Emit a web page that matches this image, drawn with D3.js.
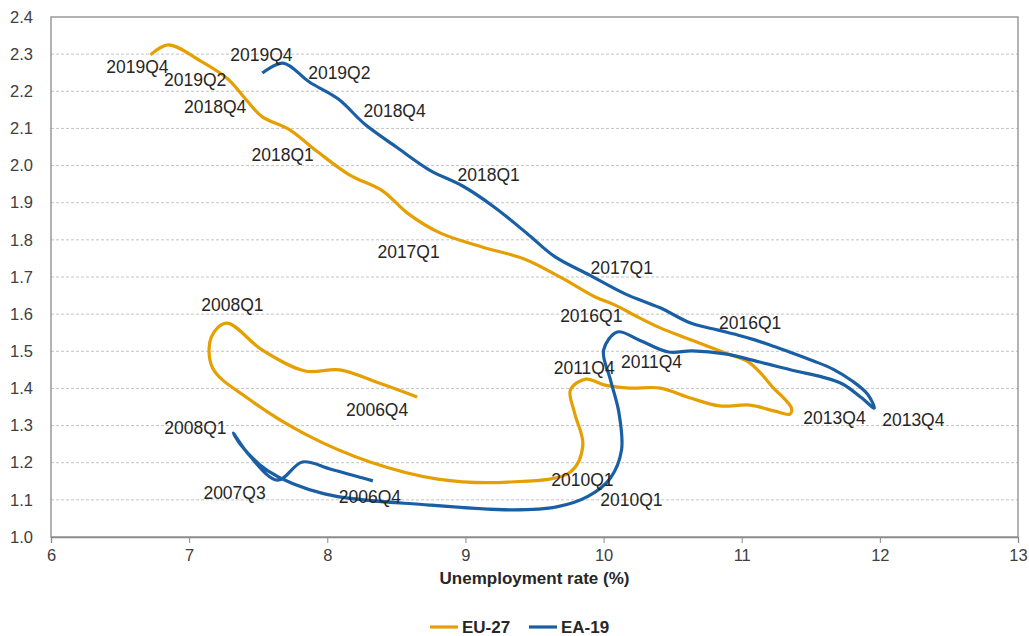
<!DOCTYPE html>
<html>
<head>
<meta charset="utf-8">
<script src="https://cdn.jsdelivr.net/npm/d3@7"></script>
<style>
body { margin: 0; background: #fff; }
text { font-family: "Liberation Sans", Arial, sans-serif; }
</style>
</head>
<body>
<svg width="1029" height="636"></svg>
<script>
// quarters 2006Q4 .. 2019Q4
const quarters = [
    '2006Q4',
    '2007Q1', '2007Q2', '2007Q3', '2007Q4', '2008Q1', '2008Q2', '2008Q3', '2008Q4',
    '2009Q1', '2009Q2', '2009Q3', '2009Q4', '2010Q1', '2010Q2', '2010Q3', '2010Q4',
    '2011Q1', '2011Q2', '2011Q3', '2011Q4', '2012Q1', '2012Q2', '2012Q3', '2012Q4',
    '2013Q1', '2013Q2', '2013Q3', '2013Q4', '2014Q1', '2014Q2', '2014Q3', '2014Q4',
    '2015Q1', '2015Q2', '2015Q3', '2015Q4', '2016Q1', '2016Q2', '2016Q3', '2016Q4',
    '2017Q1', '2017Q2', '2017Q3', '2017Q4', '2018Q1', '2018Q2', '2018Q3', '2018Q4',
    '2019Q1', '2019Q2', '2019Q3', '2019Q4'
];

// unemployment rate (%)
const euUnemp = [8.65, 8.37, 8.09, 7.84, 7.53, 7.27, 7.16, 7.17, 7.43, 7.84, 8.31, 8.80, 9.31,
    9.76, 9.85, 9.79, 9.76, 9.87, 10.01, 10.19, 10.41, 10.63, 10.84, 11.06, 11.24, 11.35, 11.36,
    11.31, 11.23, 11.15, 11.05, 10.90, 10.73, 10.58, 10.41, 10.25, 10.08, 9.94, 9.70, 9.43, 9.12,
    8.82, 8.58, 8.40, 8.16, 7.93, 7.72, 7.53, 7.42, 7.28, 7.08, 6.85, 6.72];
// job vacancy rate
const euVac = [1.377, 1.415, 1.450, 1.447, 1.503, 1.576, 1.538, 1.455, 1.372, 1.277, 1.202, 1.156,
    1.148, 1.175, 1.248, 1.334, 1.396, 1.425, 1.409, 1.401, 1.401, 1.374, 1.353, 1.355, 1.339,
    1.331, 1.347, 1.372, 1.401, 1.436, 1.471, 1.493, 1.517, 1.538, 1.563, 1.592, 1.625, 1.646,
    1.697, 1.748, 1.781, 1.818, 1.872, 1.932, 1.975, 2.037, 2.098, 2.131, 2.174, 2.233, 2.282,
    2.325, 2.298];

const eaUnemp = [8.33, 8.02, 7.82, 7.64, 7.44, 7.32, 7.37, 7.57, 7.98, 8.74, 9.34, 9.66, 9.89,
    10.05, 10.13, 10.11, 10.05, 10.00, 10.10, 10.26, 10.47, 10.64, 10.88, 11.13, 11.39, 11.58,
    11.73, 11.87, 11.96, 11.91, 11.80, 11.66, 11.52, 11.37, 11.24, 11.10, 10.97, 10.83, 10.63,
    10.41, 10.16, 9.90, 9.65, 9.45, 9.21, 8.98, 8.74, 8.50, 8.27, 8.08, 7.87, 7.68, 7.53];
const eaVac = [1.151, 1.183, 1.202, 1.153, 1.218, 1.280, 1.250, 1.178, 1.116, 1.086, 1.073, 1.081,
    1.110, 1.159, 1.234, 1.337, 1.423, 1.503, 1.552, 1.530, 1.498, 1.501, 1.493, 1.471, 1.447,
    1.431, 1.412, 1.374, 1.347, 1.385, 1.420, 1.452, 1.474, 1.495, 1.512, 1.530, 1.544, 1.557,
    1.576, 1.617, 1.654, 1.705, 1.754, 1.816, 1.888, 1.945, 1.988, 2.050, 2.112, 2.179, 2.225,
    2.276, 2.249];

const seriesNames = ['EU-27', 'EA-19'];
const xTicks = [6, 7, 8, 9, 10, 11, 12, 13];
const yTicks = [1.0, 1.1, 1.2, 1.3, 1.4, 1.5, 1.6, 1.7, 1.8, 1.9, 2.0, 2.1, 2.2, 2.3, 2.4];
const xTitle = 'Unemployment rate (%)';

// which quarters get a label, per series
const euLabelled = ['2006Q4', '2008Q1', '2010Q1', '2011Q4', '2013Q4', '2016Q1', '2017Q1', '2018Q1', '2018Q4', '2019Q2', '2019Q4'];
const eaLabelled = ['2006Q4', '2007Q3', '2008Q1', '2010Q1', '2011Q4', '2013Q4', '2016Q1', '2017Q1', '2018Q1', '2018Q4', '2019Q2', '2019Q4'];

// layout: label offsets from their point (px)
const labelOffsets = {
    'EU-27': {
        '2019Q4': [-13, 12], '2019Q2': [-5, 19], '2018Q4': [-32, 6], '2018Q1': [-35, 3],
        '2017Q1': [-32, 19], '2016Q1': [-4, 19], '2013Q4': [61, 30], '2011Q4': [-76, -20],
        '2010Q1': [12, 8], '2006Q4': [-40, 13], '2008Q1': [6, -18]
    },
    'EA-19': {
        '2019Q4': [-1, -18], '2019Q2': [30, -9], '2018Q4': [30, -13], '2018Q1': [26, -11],
        '2017Q1': [32, -7], '2016Q1': [32, -7], '2013Q4': [39, 12], '2011Q4': [-17, 10],
        '2010Q1': [21, 22], '2006Q4': [-3, 16], '2007Q3': [-43, 13], '2008Q1': [-38, -5]
    }
};
const colors = { 'EU-27': '#e69f00', 'EA-19': '#1a5fa3' };

const svg = d3.select('svg');
const plotL = 51, plotR = 1018, plotT = 17, plotB = 537;

const x = d3.scaleLinear().domain([6, 13]).range([plotL, plotR]);
const y = d3.scaleLinear().domain([1, 2.4]).range([plotB, plotT]);

const series = [
    { name: seriesNames[0], pts: quarters.map((q, i) => ({ q, u: euUnemp[i], v: euVac[i] })), labelled: euLabelled },
    { name: seriesNames[1], pts: quarters.map((q, i) => ({ q, u: eaUnemp[i], v: eaVac[i] })), labelled: eaLabelled }
];

// gridlines
svg.append('g').selectAll('line')
    .data(yTicks.filter(d => d > 1.0 && d < 2.4))
    .join('line')
    .attr('x1', plotL).attr('x2', plotR)
    .attr('y1', d => y(d)).attr('y2', d => y(d))
    .attr('stroke', '#c4c4c4').attr('stroke-width', 1).attr('stroke-dasharray', '3,2');

// frame
svg.append('rect')
    .attr('x', plotL).attr('y', plotT)
    .attr('width', plotR - plotL).attr('height', plotB - plotT)
    .attr('fill', 'none').attr('stroke', '#8a8a8a').attr('stroke-width', 1.3);

// x axis
const gx = svg.append('g').attr('transform', `translate(0,${plotB})`)
    .call(d3.axisBottom(x).tickValues(xTicks).tickSize(6).tickPadding(6).tickFormat(d3.format('d')));
gx.select('.domain').attr('stroke', '#8a8a8a').attr('stroke-width', 1.3);
gx.selectAll('.tick line').attr('stroke', '#8a8a8a');
gx.selectAll('text').attr('font-size', 16.5).attr('fill', '#404040')
    .style('font-family', '"Liberation Sans", Arial, sans-serif');

// y axis
const gy = svg.append('g').attr('transform', `translate(${plotL},0)`)
    .call(d3.axisLeft(y).tickValues(yTicks).tickSize(0).tickPadding(18).tickFormat(d3.format('.1f')));
gy.select('.domain').remove();
gy.selectAll('text').attr('font-size', 16.5).attr('fill', '#404040')
    .style('font-family', '"Liberation Sans", Arial, sans-serif');

// x title
svg.append('text')
    .attr('x', (plotL + plotR) / 2).attr('y', 584)
    .attr('text-anchor', 'middle')
    .attr('font-size', 17).attr('font-weight', 'bold').attr('fill', '#262626')
    .text(xTitle);

// lines
const line = d3.line()
    .x(d => x(d.u)).y(d => y(d.v))
    .curve(d3.curveCatmullRom.alpha(0.5));

svg.append('g').selectAll('path')
    .data(series)
    .join('path')
    .attr('d', d => line(d.pts))
    .attr('fill', 'none')
    .attr('stroke', d => colors[d.name])
    .attr('stroke-width', 3.2)
    .attr('stroke-linejoin', 'round');

// quarter labels
series.forEach(s => {
    const lab = s.pts.filter(p => s.labelled.includes(p.q));
    svg.append('g').selectAll('text')
        .data(lab)
        .join('text')
        .attr('x', d => x(d.u) + labelOffsets[s.name][d.q][0])
        .attr('y', d => y(d.v) + labelOffsets[s.name][d.q][1])
        .attr('dy', '0.35em')
        .attr('text-anchor', 'middle')
        .attr('font-size', 17.5)
        .attr('fill', '#262626')
        .text(d => d.q);
});

// legend
const legend = svg.append('g').selectAll('g')
    .data(seriesNames)
    .join('g')
    .attr('transform', (d, i) => `translate(${430 + i * 99},627)`);
legend.append('line')
    .attr('x1', 0).attr('x2', 28)
    .attr('stroke', d => colors[d]).attr('stroke-width', 3.2);
legend.append('text')
    .attr('x', 32).attr('dy', '0.35em')
    .attr('font-size', 17).attr('font-weight', 'bold').attr('fill', '#262626')
    .text(d => d);
</script>
</body>
</html>
